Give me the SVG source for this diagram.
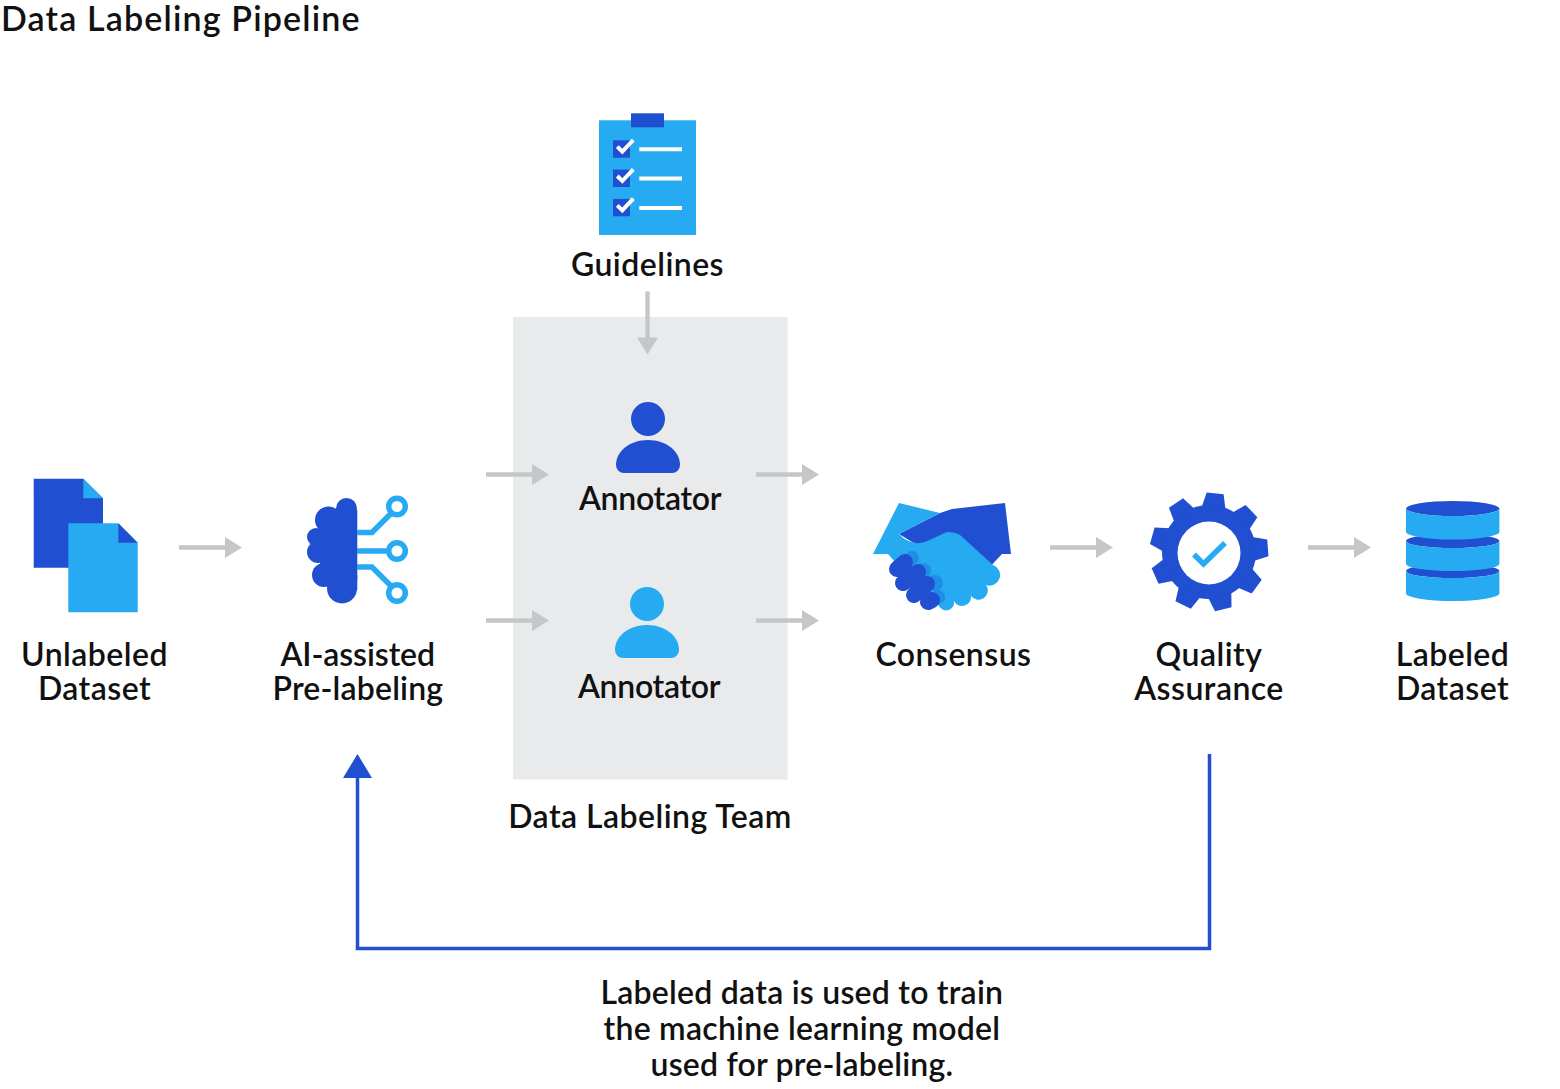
<svg xmlns="http://www.w3.org/2000/svg" width="1560" height="1089" viewBox="0 0 1560 1089">
<style>
text{font-family:"Lato","Liberation Sans",sans-serif;font-size:32px;font-weight:600;letter-spacing:.45px;fill:#111;text-anchor:middle}
.d{fill:#214fd1}.l{fill:#26aaf2}
.g{fill:#c5c6c8}
.ln{fill:none;stroke:#26aaf2;stroke-width:5.5}
.w{fill:none;stroke:#fff;stroke-width:4}
</style>
<defs>
<path id="arr" class="g" d="M0-2.2H46V-10.500L63 0 46 10.500V2.200H0Z"/>
<polygon id="tooth" points="-12,-44 -8.500,-59 8.500,-59 12,-44"/>
</defs>
<rect width="1560" height="1089" fill="#fff"/>
<text x="1" y="31" style="text-anchor:start;font-size:34px" textLength="359">Data Labeling Pipeline</text>
<rect id="team-box" x="513" y="317" width="274.500" height="462.500" fill="#e9eaec"/>
<g id="connectors">
<use href="#arr" x="179" y="547.500"/>
<use href="#arr" x="486" y="474.500"/>
<use href="#arr" x="756" y="474.500"/>
<use href="#arr" x="486" y="620.500"/>
<use href="#arr" x="756" y="620.500"/>
<use href="#arr" x="1050" y="547.500"/>
<use href="#arr" x="1308" y="547.500"/>
<use href="#arr" transform="translate(647.500 291.500) rotate(90)"/>
<path d="M1209.500 754V948.500H357.500V776" fill="none" stroke="#214fd1" stroke-width="3.500"/>
<polygon class="d" points="343,778 372,778 357.500,754"/>
</g>
<g id="unlabeled">
<path class="d" d="M33.700 478.700H83.300L103 498.300V567.700H33.700Z"/>
<path class="l" d="M83.300 478.700L103 498.300H83.300Z"/>
<path class="l" d="M68.300 523.300H118.300L137.700 542.700V612.300H68.300Z"/>
<path class="d" d="M118.300 523.300L137.700 542.700H118.300Z"/>
<text x="94.500" y="666">Unlabeled</text><text x="94.500" y="700">Dataset</text>
</g>
<g id="prelabel">
<g class="d"><circle cx="346.500" cy="508.500" r="10.500"/><circle cx="328.500" cy="520" r="13.500"/><circle cx="316" cy="537" r="9"/><circle cx="318" cy="552" r="11"/><circle cx="324" cy="575" r="12"/><circle cx="342" cy="588.500" r="15"/><rect x="320" y="510" width="37.300" height="70"/><rect x="330" y="575" width="27.300" height="15"/><rect x="314" y="535" width="10" height="25"/></g>
<path class="ln" d="M357 532.500H372L393 511.500M357 551H386M357 567H372L393 588"/>
<circle class="ln" cx="397" cy="506.500" r="8.300"/><circle class="ln" cx="397" cy="551" r="8.300"/><circle class="ln" cx="397" cy="593" r="8.300"/>
<text x="358" y="666" textLength="155">AI-assisted</text><text x="358" y="700" textLength="171">Pre-labeling</text>
</g>
<g id="guidelines">
<rect class="l" x="599" y="120.300" width="97" height="114.700"/>
<rect class="d" x="631" y="113.300" width="33" height="14"/>
<rect class="d" x="613" y="140.300" width="17" height="17.400"/><rect class="d" x="613" y="169.600" width="17" height="17.400"/><rect class="d" x="613" y="198.900" width="17" height="17.400"/>
<path class="w" d="M617.300 146.700L622.300 151.700L633.300 140M617.300 176L622.300 181L633.300 169.300M617.300 205.300L622.300 210.300L633.300 198.600M639.300 149.300H682M639.300 178.600H682M639.300 207.900H682"/>
<text x="647.500" y="276">Guidelines</text>
</g>
<g id="annotator1">
<circle class="d" cx="648" cy="419" r="17"/>
<path class="d" d="M624 473a8 8 0 0 1-8-8c0-14 14-25 32-25s32 11 32 25a8 8 0 0 1-8 8Z"/>
<text x="650.500" y="510" textLength="143">Annotator</text>
</g>
<g id="annotator2">
<circle class="l" cx="647" cy="604" r="17"/>
<path class="l" d="M623 658a8 8 0 0 1-8-8c0-14 14-25 32-25s32 11 32 25a8 8 0 0 1-8 8Z"/>
<text x="649.500" y="698" textLength="143">Annotator</text>
</g>
<text id="team-label" x="650" y="828">Data Labeling Team</text>
<g id="consensus">
<path class="d" d="M940 513L952 509L1005 503L1011 554H1002L985 572L950 535L917 545L899 534Z"/>
<path class="l" d="M899 503L940 513L899 534C906 542 917 545 925 542L947 532C952 532 957 533 960 535L993 565A10 10 0 0 1 986 585A9 9 0 0 1 971 596A9 9 0 0 1 954 601A8 8 0 0 1 939 606L895 562L888 554H873Z"/>
<g fill="#1f8ee6"><circle cx="912" cy="558" r="7"/><circle cx="923" cy="571" r="8"/><circle cx="935" cy="583" r="8"/><circle cx="938" cy="597" r="7"/></g>
<path d="M897 569L905 562M903 583L918 572M914 595L927 584M928 602L932 600" fill="none" stroke="#214fd1" stroke-width="16" stroke-linecap="round"/>
<text x="953.500" y="666">Consensus</text>
</g>
<g id="qa">
<g class="d" transform="translate(1209 552)">
<circle r="47"/>
<use href="#tooth" transform="rotate(6)"/><use href="#tooth" transform="rotate(46)"/><use href="#tooth" transform="rotate(86)"/><use href="#tooth" transform="rotate(126)"/><use href="#tooth" transform="rotate(166)"/><use href="#tooth" transform="rotate(206)"/><use href="#tooth" transform="rotate(246)"/><use href="#tooth" transform="rotate(286)"/><use href="#tooth" transform="rotate(326)"/>
</g>
<circle cx="1209" cy="553" r="31.500" fill="#fff"/>
<path d="M1194 554.500L1203.500 564L1225 543" fill="none" stroke="#26aaf2" stroke-width="5.500"/>
<text x="1209" y="666">Quality</text><text x="1209" y="700">Assurance</text>
</g>
<g id="labeled">
<ellipse class="d" cx="1452.700" cy="508.500" rx="46.700" ry="7.500"/>
<ellipse class="d" cx="1452.700" cy="541" rx="46.700" ry="7"/>
<ellipse class="d" cx="1452.700" cy="571" rx="46.700" ry="7"/>
<path class="l" d="M1406 508.500A46.700 7.500 0 0 0 1499.400 508.500V532A46.700 7.500 0 0 1 1406 532Z"/>
<path class="l" d="M1406 541A46.700 7 0 0 0 1499.400 541V564A46.700 7 0 0 1 1406 564Z"/>
<path class="l" d="M1406 571A46.700 7 0 0 0 1499.400 571V593.500A46.700 7.500 0 0 1 1406 593.500Z"/>
<text x="1452.500" y="666">Labeled</text><text x="1452.500" y="700">Dataset</text>
</g>
<g id="note">
<text x="802" y="1004" textLength="403">Labeled data is used to train</text>
<text x="802" y="1040" textLength="397">the machine learning model</text>
<text x="802" y="1076" textLength="303">used for pre-labeling.</text>
</g>
</svg>
